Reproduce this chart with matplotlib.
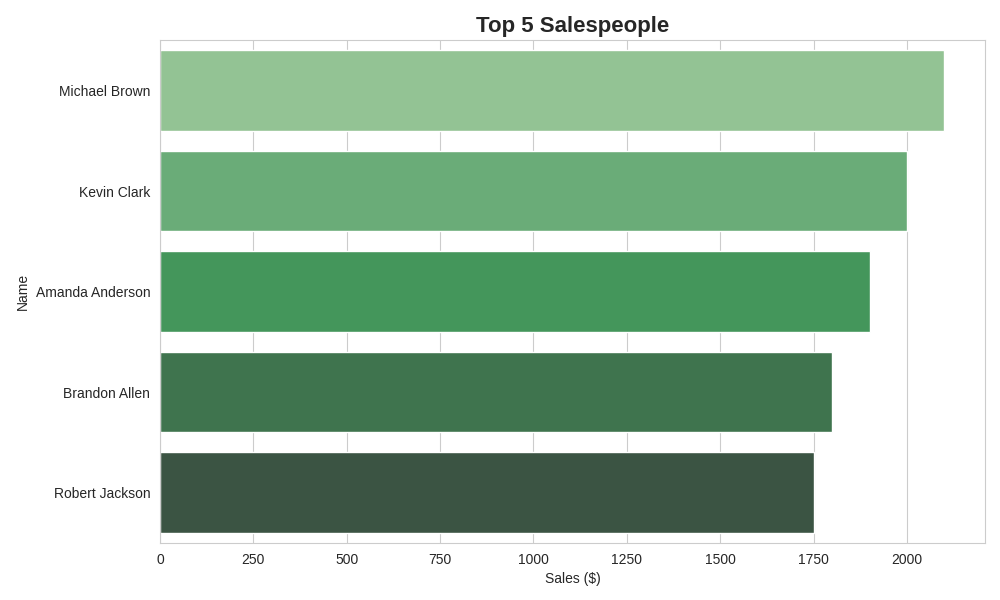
import matplotlib
matplotlib.use("Agg")
import matplotlib.pyplot as plt
import seaborn as sns

names = ["Michael Brown", "Kevin Clark", "Amanda Anderson", "Brandon Allen", "Robert Jackson"]
sales = [2100, 2000, 1900, 1800, 1750]
colors = ["#93c394", "#6aac78", "#44965b", "#3f744e", "#3b5443"]

sns.set_style("whitegrid")
plt.rcParams['font.family'] = ['Liberation Sans', 'DejaVu Sans']
fig = plt.figure(figsize=(10, 6), dpi=100)
ax = fig.add_axes([0.16, 0.095, 0.825, 0.838])
y = list(range(len(names)))
ax.barh(y, sales, height=0.8, color=colors)
ax.set_yticks(y)
ax.set_yticklabels(names)
ax.set_ylim(4.5, -0.5)
ax.set_xlim(0, 2209)
ax.set_xticks([0, 250, 500, 750, 1000, 1250, 1500, 1750, 2000])
ax.grid(False, axis="y")
ax.set_xlabel("Sales ($)", color="#262626")
ax.set_ylabel("Name", color="#262626")
ax.set_title("Top 5 Salespeople", fontsize=16, fontweight="bold", color="#262626", pad=6)
ax.tick_params(colors="#262626")
for s in ax.spines.values():
    s.set_color("#cccccc")
ax.set_axisbelow(True)
fig.savefig("out.png", dpi=100)
